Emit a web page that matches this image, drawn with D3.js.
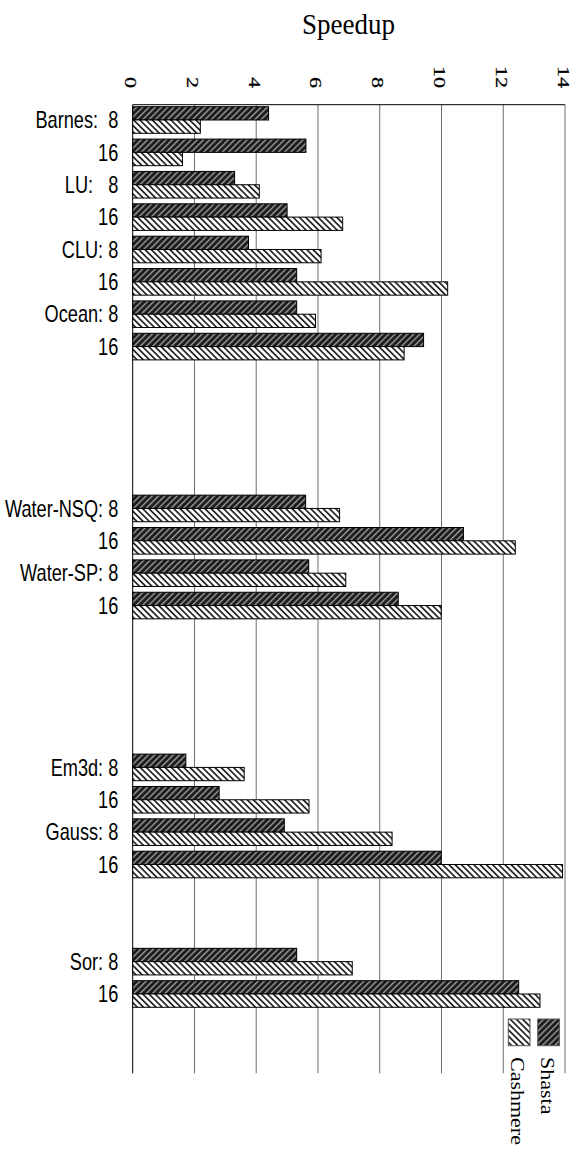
<!DOCTYPE html>
<html lang="en">
<head>
    <meta charset="UTF-8">
    <title>Speedup</title>
    <script src="https://d3js.org/d3.v7.min.js"></script>
    <style>
        body { margin: 0; background: #fff; }
        text { white-space: pre; }
    </style>
</head>
<body>
<script>
    // rows of the chart, blank rows are the gaps between benchmark groups
    var labels = ["Barnes:  8", "16", "LU:   8", "16", "CLU: 8", "16", "Ocean: 8", "16",
        "", "", "", "",
        "Water-NSQ: 8", "16", "Water-SP: 8", "16",
        "", "", "", "",
        "Em3d: 8", "16", "Gauss: 8", "16",
        "", "",
        "Sor: 8", "16",
        "", ""];
    var shasta = [4.40, 5.61, 3.30, 5.00, 3.75, 5.31, 5.31, 9.42,
        null, null, null, null,
        5.60, 10.71, 5.70, 8.60,
        null, null, null, null,
        1.72, 2.80, 4.91, 9.99,
        null, null,
        5.31, 12.50,
        null, null];
    var cashmere = [2.19, 1.61, 4.10, 6.80, 6.10, 10.20, 5.92, 8.79,
        null, null, null, null,
        6.70, 12.39, 6.90, 9.99,
        null, null, null, null,
        3.61, 5.71, 8.40, 13.92,
        null, null,
        7.11, 13.19,
        null, null];
    var series = ["Shasta", "Cashmere"];
    var ticks = [0, 2, 4, 6, 8, 10, 12, 14];

    var width = 582;
    var height = 1152;
    var plotTop = 104.7, plotBottom = 1073.3;

    var svg = d3.select("body")
        .append("svg")
        .attr("width", width)
        .attr("height", height);

    var defs = svg.append("defs");
    var pShasta = defs.append("pattern")
        .attr("id", "hatch-shasta")
        .attr("patternUnits", "userSpaceOnUse")
        .attr("width", 4.4).attr("height", 4.4)
        .attr("patternTransform", "rotate(45)");
    pShasta.append("rect").attr("width", 4.4).attr("height", 4.4).attr("fill", "#1c1c1c");
    pShasta.append("rect").attr("x", 0).attr("width", 1.4).attr("height", 4.4).attr("fill", "#9a9a9a");
    var pCash = defs.append("pattern")
        .attr("id", "hatch-cashmere")
        .attr("patternUnits", "userSpaceOnUse")
        .attr("width", 4.4).attr("height", 4.4)
        .attr("patternTransform", "rotate(-45)");
    pCash.append("rect").attr("width", 4.4).attr("height", 4.4).attr("fill", "#fff");
    pCash.append("rect").attr("x", 0).attr("width", 1.7).attr("height", 4.4).attr("fill", "#222");

    var fills = d3.scaleOrdinal()
        .domain(series)
        .range(["url(#hatch-shasta)", "url(#hatch-cashmere)"]);

    var xScale = d3.scaleLinear()
        .domain([0, 14])
        .range([132.7, 565]);
    var yScale = d3.scaleBand()
        .domain(d3.range(labels.length))
        .range([plotTop, 1075.8]);
    var ySub = d3.scaleBand()
        .domain(series)
        .range([2, 28.6]);

    // title
    svg.append("text")
        .attr("transform", "translate(348.5,34) scale(0.9,1)")
        .attr("text-anchor", "middle")
        .attr("font-family", "Liberation Serif, Times New Roman, serif")
        .attr("font-size", 30)
        .text("Speedup");

    // grid
    svg.selectAll("line.grid")
        .data(ticks.slice(1))
        .enter()
        .append("line")
        .attr("class", "grid")
        .attr("x1", d => xScale(d)).attr("x2", d => xScale(d))
        .attr("y1", plotTop).attr("y2", plotBottom)
        .attr("stroke", "#6e6e6e")
        .attr("stroke-width", 1);
    svg.append("line")
        .attr("x1", xScale(0)).attr("x2", xScale(14))
        .attr("y1", plotTop).attr("y2", plotTop)
        .attr("stroke", "#000");
    svg.append("line")
        .attr("x1", xScale(0)).attr("x2", xScale(0))
        .attr("y1", plotTop).attr("y2", plotBottom)
        .attr("stroke", "#000");

    // tick labels, turned on their side
    svg.selectAll("text.tick")
        .data(ticks)
        .enter()
        .append("text")
        .attr("class", "tick")
        .attr("transform", d => "translate(" + (xScale(d) - 7.5) + ",88) scale(0.78,1) rotate(90)")
        .attr("text-anchor", "end")
        .attr("font-family", "Liberation Serif, Times New Roman, serif")
        .attr("font-size", 22)
        .attr("stroke", "#000")
        .attr("stroke-width", 0.3)
        .text(d => d);

    // bars
    var rows = labels.map(function (l, i) {
        return {i: i, label: l, Shasta: shasta[i], Cashmere: cashmere[i]};
    });
    var barData = [];
    rows.forEach(function (r) {
        series.forEach(function (s) {
            if (r[s] != null) barData.push({i: r.i, key: s, value: r[s]});
        });
    });
    svg.append("g")
        .selectAll("rect")
        .data(barData)
        .enter()
        .append("rect")
        .attr("x", xScale(0))
        .attr("y", d => yScale(d.i) + ySub(d.key))
        .attr("width", d => xScale(d.value) - xScale(0))
        .attr("height", ySub.bandwidth())
        .attr("fill", d => fills(d.key))
        .attr("stroke", "#000")
        .attr("stroke-width", 1);

    // row labels
    svg.append("g")
        .selectAll("text")
        .data(rows.filter(r => r.label !== ""))
        .enter()
        .append("text")
        .attr("transform", d => "translate(118.3," + (yScale(d.i) + 2 + ySub.bandwidth() + 8.2) + ") scale(0.79,1)")
        .attr("text-anchor", "end")
        .attr("font-family", "Liberation Sans, Arial, Helvetica, sans-serif")
        .attr("font-size", 23)
        .text(d => d.label);

    // legend
    var legX = d3.scaleOrdinal()
        .domain(series)
        .range([537.7, 508.3]);
    var leg = svg.append("g")
        .selectAll("g")
        .data(series)
        .enter()
        .append("g");
    leg.append("rect")
        .attr("x", d => legX(d))
        .attr("y", 1019)
        .attr("width", 21.7)
        .attr("height", 26.7)
        .attr("fill", d => fills(d))
        .attr("stroke", "#555")
        .attr("stroke-width", 1);
    leg.append("text")
        .attr("transform", d => "translate(" + (legX(d) + 3) + ",1057) scale(0.85,1) rotate(90)")
        .attr("text-anchor", "start")
        .attr("font-family", "Liberation Serif, Times New Roman, serif")
        .attr("font-size", 22)
        .text(d => d);
</script>
</body>
</html>
